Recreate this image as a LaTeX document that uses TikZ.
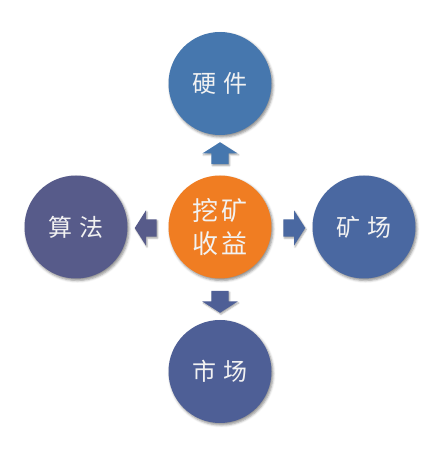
\documentclass[tikz,border=0pt]{standalone}
\usepackage{fontspec}
\newfontfamily\cjk{Noto Sans CJK SC}
\usetikzlibrary{shapes.arrows,shadows.blur}
\definecolor{hardblue}{HTML}{4677AE}
\definecolor{algoblue}{HTML}{575B8A}
\definecolor{farmblue}{HTML}{4A68A1}
\definecolor{marketblue}{HTML}{4E5F96}
\definecolor{gainorange}{HTML}{F07D22}

\tikzset{
  topic/.style={circle,minimum size=103pt,inner sep=0pt,text=white!95!black,
    font=\cjk\fontsize{24}{28}\selectfont,
    blur shadow={shadow xshift=1.5pt,shadow yshift=-2pt,shadow blur radius=2.5pt,shadow opacity=45}},
  pointer/.style={single arrow,draw=none,minimum height=22pt,inner xsep=0pt,inner ysep=8.5pt,
    single arrow head extend=9pt,single arrow tip angle=115,
    blur shadow={shadow xshift=1pt,shadow yshift=-1.5pt,shadow blur radius=1.5pt,shadow opacity=35}}
}

\begin{document}
\begin{tikzpicture}[x=1pt,y=1pt]
  \useasboundingbox (0,0) rectangle (442,473);
  \node (gain) [topic,fill=gainorange,font=\cjk\fontsize{26}{33}\selectfont,align=center] at (220,246) {挖\hspace{3pt}矿\\收\hspace{3pt}益};
  \node (hardware) [topic,fill=hardblue] at (220,389.5) {硬\hspace{8pt}件};
  \node (algo) [topic,fill=algoblue] at (76,246) {算\hspace{8pt}法};
  \node (farm) [topic,fill=farmblue] at (364,246) {矿\hspace{8pt}场};
  \node (market) [topic,fill=marketblue] at (220,101.5) {市\hspace{8pt}场};

  \node (up) [pointer,fill=hardblue,rotate=90] at (220,317) {};
  \node (left) [pointer,fill=algoblue,rotate=180] at (148.5,245) {};
  \node (right) [pointer,fill=farmblue] at (291.5,245) {};
  \node (down) [pointer,fill=marketblue,rotate=-90] at (220,174) {};
\end{tikzpicture}
\end{document}
